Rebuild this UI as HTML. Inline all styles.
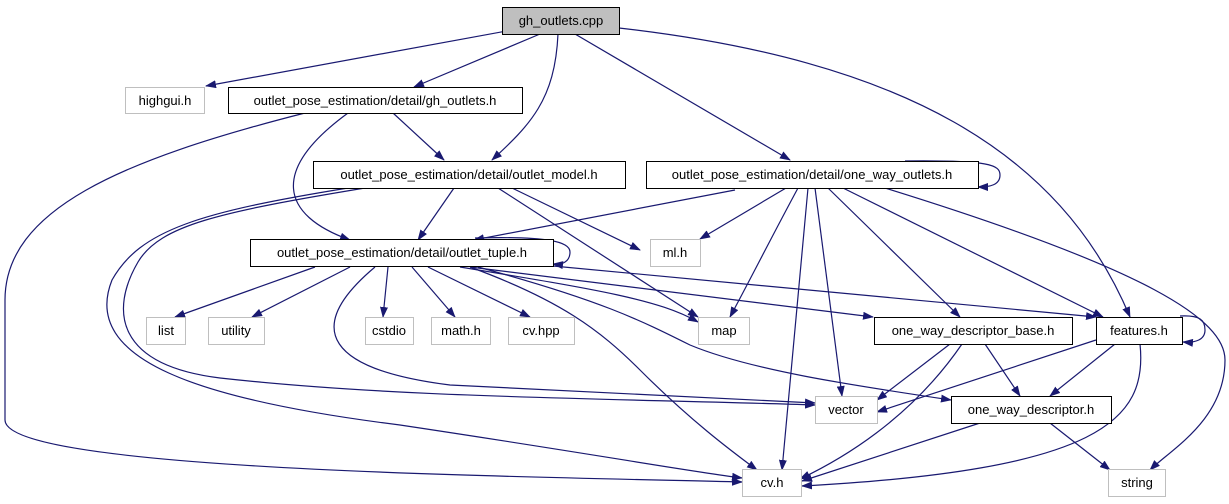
<!DOCTYPE html>
<html><head><meta charset="utf-8"><style>
html,body{margin:0;padding:0;background:#fff;}
svg{display:block;}
text{font-family:"Liberation Sans",sans-serif;font-size:13px;fill:#000;}
</style></head><body>
<svg width="1229" height="504" viewBox="0 0 1229 504" xmlns="http://www.w3.org/2000/svg">
<defs>
<marker id="a" markerWidth="11" markerHeight="8" refX="10" refY="4" orient="auto" markerUnits="userSpaceOnUse">
<path d="M0,0 L11,4 L0,8 Z" fill="#191970"/>
</marker>
</defs>
<g fill="none" stroke="#191970" stroke-width="1.2" marker-end="url(#a)">
<path d="M512,30 L206,86"/>
<path d="M540,34 L414,87"/>
<path d="M558,34 C555,100 530,125 492,160"/>
<path d="M575,34 L790,160"/>
<path d="M619,28 C900,60 1060,150 1130,317"/>
<path d="M393,113 L444,160"/>
<path d="M348,113 C270,170 280,215 350,240"/>
<path d="M305,113 C120,160 5,210 5,300 L5,420 C5,470 500,476 742,482"/>
<path d="M454,188 L418,240"/>
<path d="M512,188 L640,250"/>
<path d="M498,188 L698,317"/>
<path d="M365,188 C220,212 160,225 138,262 C110,310 115,365 220,378 C400,398 600,398 815,405"/>
<path d="M348,188 C200,212 140,230 112,280 C80,360 200,400 400,425 C600,455 680,470 742,478"/>
<path d="M735,190 L474,240"/>
<path d="M786,188 L700,239"/>
<path d="M798,188 C770,240 750,280 730,317"/>
<path d="M808,188 L782,470"/>
<path d="M815,188 L842,396"/>
<path d="M828,188 L960,317"/>
<path d="M843,188 L1103,317"/>
<path d="M885,188 C1150,270 1225,320 1225,360 C1225,420 1170,450 1150,470"/>
<path d="M905,161 C990,160 1000,165 1000,175 C1000,185 990,187 978,187"/>
<path d="M475,238 C550,236 570,242 570,252 C570,262 562,265 553,264"/>
<path d="M1180,316 C1200,315 1205,320 1205,330 C1205,340 1195,343 1183,342"/>
<path d="M315,267 L175,317"/>
<path d="M350,267 L252,317"/>
<path d="M388,267 L383,317"/>
<path d="M412,267 L455,317"/>
<path d="M428,267 L530,317"/>
<path d="M460,267 C600,290 660,300 698,322"/>
<path d="M470,267 L873,317"/>
<path d="M553,266 L1096,317"/>
<path d="M478,267 C600,300 640,320 690,345 C750,370 850,385 951,400"/>
<path d="M375,267 C300,330 330,370 450,385 L815,403"/>
<path d="M470,267 C560,300 600,330 640,370 C690,420 730,450 757,470"/>
<path d="M950,344 L877,400"/>
<path d="M962,344 C910,420 840,460 800,479"/>
<path d="M985,344 L1020,396"/>
<path d="M1096,340 L877,412"/>
<path d="M1115,344 L1050,396"/>
<path d="M1140,344 C1148,420 1100,470 802,486"/>
<path d="M980,423 L802,481"/>
<path d="M1050,423 L1110,470"/>
</g>
<g stroke-width="1">
<rect x="502.5" y="7.5" width="117" height="27" fill="#bfbfbf" stroke="#000"/>
<rect x="125.5" y="87.5" width="79" height="26" fill="#fff" stroke="#bfbfbf"/>
<rect x="228.5" y="87.5" width="294" height="26" fill="#fff" stroke="#000"/>
<rect x="313.5" y="161.5" width="312" height="27" fill="#fff" stroke="#000"/>
<rect x="646.5" y="161.5" width="332" height="27" fill="#fff" stroke="#000"/>
<rect x="250.5" y="239.5" width="303" height="27" fill="#fff" stroke="#000"/>
<rect x="650.5" y="239.5" width="50" height="27" fill="#fff" stroke="#bfbfbf"/>
<rect x="146.5" y="317.5" width="39" height="27" fill="#fff" stroke="#bfbfbf"/>
<rect x="208.5" y="317.5" width="56" height="27" fill="#fff" stroke="#bfbfbf"/>
<rect x="365.5" y="317.5" width="48" height="27" fill="#fff" stroke="#bfbfbf"/>
<rect x="431.5" y="317.5" width="59" height="27" fill="#fff" stroke="#bfbfbf"/>
<rect x="508.5" y="317.5" width="66" height="27" fill="#fff" stroke="#bfbfbf"/>
<rect x="698.5" y="317.5" width="51" height="27" fill="#fff" stroke="#bfbfbf"/>
<rect x="874.5" y="317.5" width="198" height="27" fill="#fff" stroke="#000"/>
<rect x="1096.5" y="317.5" width="86" height="27" fill="#fff" stroke="#000"/>
<rect x="815.5" y="396.5" width="62" height="27" fill="#fff" stroke="#bfbfbf"/>
<rect x="951.5" y="396.5" width="160" height="27" fill="#fff" stroke="#000"/>
<rect x="742.5" y="469.5" width="59" height="27" fill="#fff" stroke="#bfbfbf"/>
<rect x="1108.5" y="469.5" width="57" height="27" fill="#fff" stroke="#bfbfbf"/>
</g>
<g text-anchor="middle">
<text x="561" y="25">gh_outlets.cpp</text>
<text x="165" y="105">highgui.h</text>
<text x="375" y="105">outlet_pose_estimation/detail/gh_outlets.h</text>
<text x="469" y="179">outlet_pose_estimation/detail/outlet_model.h</text>
<text x="812" y="179">outlet_pose_estimation/detail/one_way_outlets.h</text>
<text x="402" y="257">outlet_pose_estimation/detail/outlet_tuple.h</text>
<text x="675" y="257">ml.h</text>
<text x="166" y="335">list</text>
<text x="236" y="335">utility</text>
<text x="389" y="335">cstdio</text>
<text x="461" y="335">math.h</text>
<text x="541" y="335">cv.hpp</text>
<text x="724" y="335">map</text>
<text x="973" y="335">one_way_descriptor_base.h</text>
<text x="1139" y="335">features.h</text>
<text x="846" y="414">vector</text>
<text x="1031" y="414">one_way_descriptor.h</text>
<text x="772" y="487">cv.h</text>
<text x="1137" y="487">string</text>
</g>
</svg>
</body></html>
